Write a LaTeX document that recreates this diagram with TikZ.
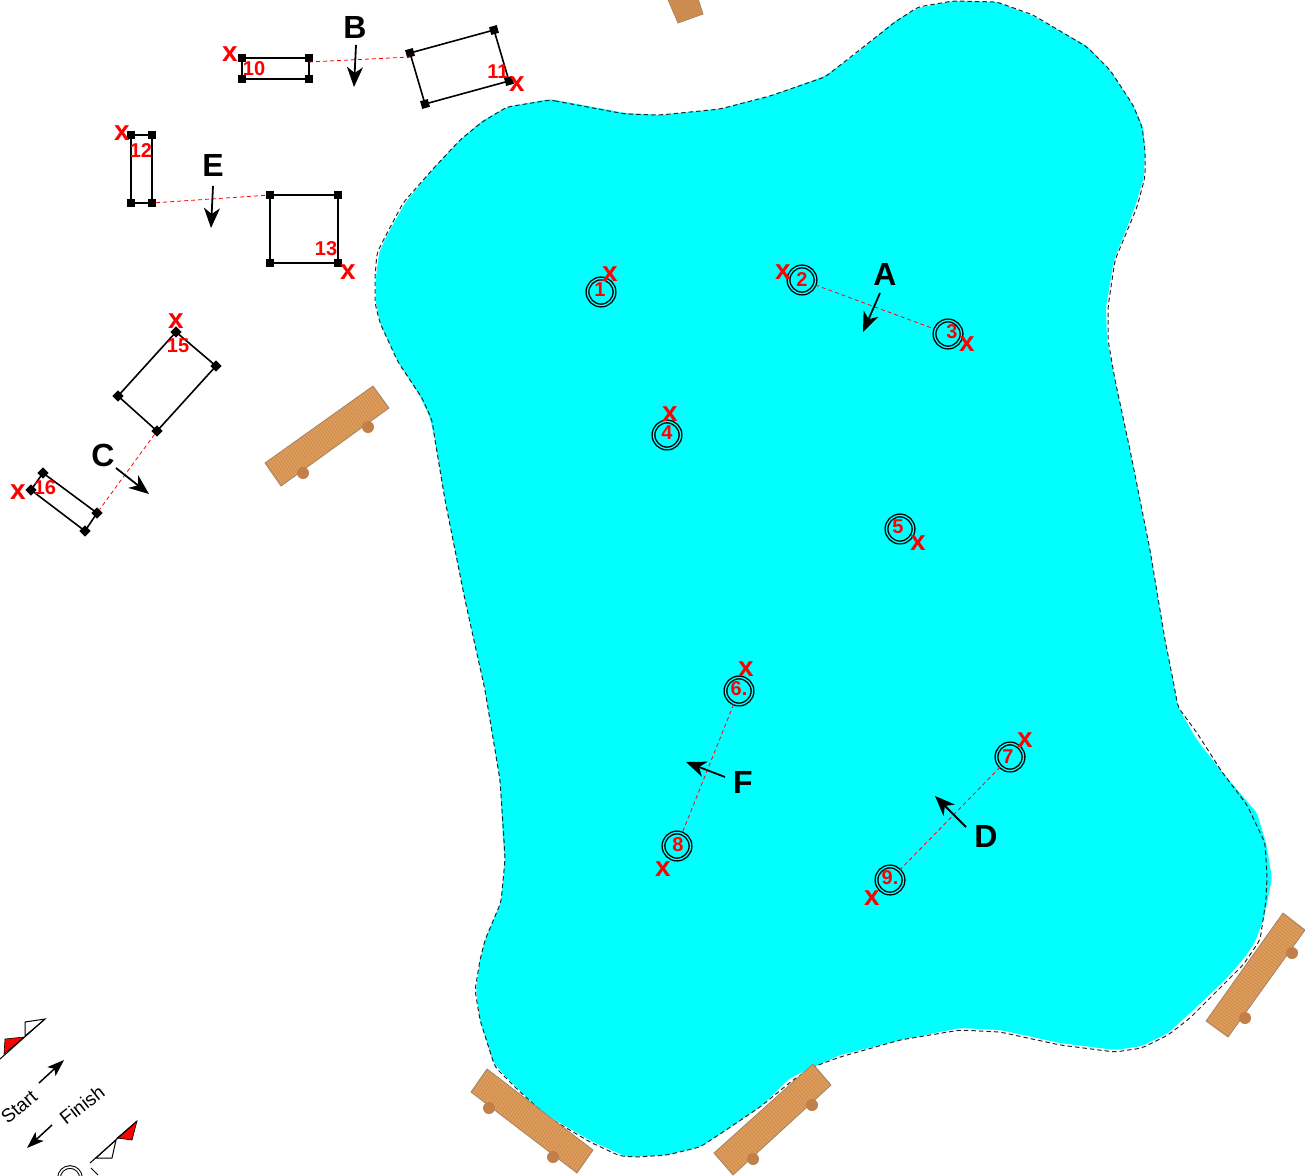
\documentclass[tikz,border=0pt]{standalone}
\usepackage{fontspec}
\setmainfont{Liberation Sans}
\usetikzlibrary{arrows.meta,calc}
\definecolor{lake}{HTML}{00FFFF}
\definecolor{wood}{HTML}{DF9C5A}
\definecolor{woodline}{HTML}{C6874C}
\definecolor{woodedge}{HTML}{A08468}
\definecolor{peg}{HTML}{C27F4A}
\tikzset{
  ring/.style={circle,draw=black,double=lake,double distance=1.3pt,line width=1.4pt,minimum size=27pt,inner sep=0pt},
  numlabel/.style={text=red,font=\bfseries\fontsize{20}{22}\selectfont,inner sep=0pt},
  xlabel/.style={text=red,font=\bfseries\fontsize{28}{30}\selectfont,inner sep=0pt},
  letter/.style={text=black,font=\bfseries\fontsize{32}{34}\selectfont,inner sep=0pt},
  legend/.style={text=black,font=\fontsize{19}{22}\selectfont,inner sep=0pt},
  handle/.style={rectangle,fill=black,minimum size=8pt,inner sep=0pt},
  box/.style={draw=black,line width=1.6pt},
  sight/.style={draw=red,line width=0.8pt,dash pattern=on 4pt off 3pt},
  bigarrow/.style={draw=black,line width=1.8pt,-{Stealth[length=20pt,width=16pt,inset=6pt]}},
  smallarrow/.style={draw=black,line width=1.5pt,-{Stealth[length=17pt,width=12pt,inset=4pt]}},
  shore/.style={draw=black!85,line width=1pt,dash pattern=on 4.5pt off 3pt,rounded corners=5pt},
  flagline/.style={draw=black,line width=1pt},
}
\newcommand{\dock}[4]{%
  \fill[wood,draw=woodedge,line width=0.8pt] #1 -- #2 -- #3 -- #4 -- cycle;
  \foreach \t in {0.01,0.03,...,1}{
    \draw[woodline,line width=0.5pt] ($#1!\t!#2$) -- ($#4!\t!#3$);
  }
}
\begin{document}
\begin{tikzpicture}[x=1pt,y=-1pt]
\useasboundingbox (0,0) rectangle (1305,1175);
\fill[white] (0,0) rectangle (1305,1175);
\clip (0,0) rectangle (1305,1175);

% lake surface
\fill[lake,rounded corners=4pt] (550,99) -- (625,113) -- (660,115) -- (720,109) -- (770,96) -- (825,76) -- (857,53) -- (895,21) -- (918,8) -- (953,1) -- (997,2) -- (1033,16) -- (1087,46) -- (1110,70) -- (1133,105) -- (1143,127) -- (1145,150) -- (1144,177) -- (1135,207) -- (1114,260) -- (1106,307) -- (1107,340) -- (1115,380) -- (1130,450) -- (1150,550) -- (1165,640) -- (1173,680) -- (1178,707) -- (1197,740) -- (1222,772) -- (1257,813) -- (1266,843) -- (1272,878) -- (1264,918) -- (1255,942) -- (1245,957) -- (1225,980) -- (1190,1013) -- (1168,1033) -- (1142,1046) -- (1115,1050) -- (1060,1043) -- (1000,1030) -- (960,1028) -- (900,1040) -- (840,1055) -- (790,1078) -- (760,1107) -- (723,1132) -- (700,1147) -- (667,1155) -- (627,1157) -- (593,1142) -- (543,1113) -- (507,1078) -- (493,1062) -- (480,1020) -- (476,990) -- (480,960) -- (485,940) -- (501,902) -- (505,860) -- (503,840) -- (500,780) -- (485,690) -- (465,600) -- (445,500) -- (435,440) -- (430,418) -- (420,396) -- (398,362) -- (380,323) -- (376,303) -- (376,277) -- (379,253) -- (386,237) -- (405,203) -- (432,170) -- (460,140) -- (482,121) -- (507,107) -- cycle;
% shore line
\path[shore] (550,100) -- (625,114) -- (660,115) -- (720,109) -- (770,96) -- (825,77) -- (857,52) -- (895,22) -- (918,7) -- (953,1) -- (997,2) -- (1033,15) -- (1087,47) -- (1110,70) -- (1133,105) -- (1142,127) -- (1145,150) -- (1145,177) -- (1137,207) -- (1115,260) -- (1108,307) -- (1108,340) -- (1115,380) -- (1130,450) -- (1150,550) -- (1165,640) -- (1173,680) -- (1178,707) -- (1197,733) -- (1222,772) -- (1247,805) -- (1265,843) -- (1267,877) -- (1266,900) -- (1260,940) -- (1243,965) -- (1190,1018) -- (1168,1035) -- (1142,1048) -- (1115,1052) -- (1060,1045) -- (1000,1032) -- (960,1030) -- (900,1040) -- (840,1057) -- (813,1067) -- (793,1080) -- (760,1107) -- (723,1132) -- (700,1147) -- (667,1155) -- (637,1157) -- (620,1156) -- (590,1142) -- (548,1117) -- (518,1090) -- (495,1067) -- (480,1020) -- (475,990) -- (480,960) -- (485,940) -- (501,902) -- (505,860) -- (504,840) -- (500,780) -- (485,690) -- (465,600) -- (445,500) -- (435,440) -- (432,420) -- (422,398) -- (398,362) -- (380,323) -- (375,303) -- (375,277) -- (377,253) -- (385,237) -- (403,203) -- (432,170) -- (460,140) -- (482,122) -- (507,107) -- cycle;

% docks
\dock{(265,463)}{(373,386)}{(389,408)}{(281,486)}
\fill[peg] (368,427) circle (6); \fill[peg] (303,473) circle (6);
\dock{(487,1069)}{(593,1150)}{(577,1173)}{(471,1092)}
\fill[peg] (489,1108) circle (6); \fill[peg] (553,1157) circle (6);
\dock{(813,1064)}{(714,1153)}{(733,1175)}{(831,1085)}
\fill[peg] (812,1105) circle (6); \fill[peg] (753,1159) circle (6);
\dock{(1283,913)}{(1206,1021)}{(1228,1037)}{(1305,930)}
\fill[peg] (1292,953) circle (6); \fill[peg] (1245,1018) circle (6);
\dock{(663,-12)}{(678,23)}{(703,14)}{(692,-20)}

% buoys
\node[ring] (m1) at (601,292) {};
\node[ring] (m2) at (802,280) {};
\node[ring] (m3) at (948,334) {};
\node[ring] (m4) at (667,435) {};
\node[ring] (m5) at (900,529) {};
\node[ring] (m6) at (739,691) {};
\node[ring] (m7) at (1010,757) {};
\node[ring] (m8) at (677,846) {};
\node[ring] (m9) at (890,880) {};

% gates
\node[handle] (a1) at (242,58) {};
\node[handle] (a2) at (309,58) {};
\node[handle] (a3) at (309,79) {};
\node[handle] (a4) at (242,79) {};
\draw[box] (a1.center) -- (a2.center) -- (a3.center) -- (a4.center) -- cycle;
\node[handle,rotate=16] (b1) at (410,53) {};
\node[handle,rotate=16] (b2) at (494,30) {};
\node[handle,rotate=16] (b3) at (509,81) {};
\node[handle,rotate=16] (b4) at (425,104) {};
\draw[box] (b1.center) -- (b2.center) -- (b3.center) -- (b4.center) -- cycle;
\node[handle] (c1) at (131,135) {};
\node[handle] (c2) at (152,135) {};
\node[handle] (c3) at (152,203) {};
\node[handle] (c4) at (131,203) {};
\draw[box] (c1.center) -- (c2.center) -- (c3.center) -- (c4.center) -- cycle;
\node[handle] (d1) at (270,195) {};
\node[handle] (d2) at (338,195) {};
\node[handle] (d3) at (338,263) {};
\node[handle] (d4) at (270,263) {};
\draw[box] (d1.center) -- (d2.center) -- (d3.center) -- (d4.center) -- cycle;
\node[handle,rotate=45] (e1) at (176,332) {};
\node[handle,rotate=45] (e2) at (216,366) {};
\node[handle,rotate=45] (e3) at (157,431) {};
\node[handle,rotate=45] (e4) at (118,396) {};
\draw[box] (e1.center) -- (e2.center) -- (e3.center) -- (e4.center) -- cycle;
\node[handle,rotate=45] (f1) at (43,473) {};
\node[handle,rotate=45] (f2) at (97,513) {};
\node[handle,rotate=45] (f3) at (85,531) {};
\node[handle,rotate=45] (f4) at (31,490) {};
\draw[box] (f1.center) -- (f2.center) -- (f3.center) -- (f4.center) -- cycle;

% sight lines
\path[sight] (m2) -- (m3);
\path[sight] (m6) -- (m8);
\path[sight] (m7) -- (m9);
\path[sight] ([yshift=-4pt]a2.center) -- ([yshift=-4pt]b1.center);
\path[sight] (c3) -- (d1);
\path[sight] (e3) -- (f2);

% numbers
\node[numlabel] (n1) at (600,290) {1};
\node[numlabel] (n2) at (802,280) {2};
\node[numlabel] (n3) at (952,332) {3};
\node[numlabel] (n4) at (667,433) {4};
\node[numlabel] (n5) at (898,527) {5};
\node[numlabel] (n6) at (739,689) {6.};
\node[numlabel] (n7) at (1008,757) {7};
\node[numlabel] (n8) at (678,845) {8};
\node[numlabel] (n9) at (890,878) {9.};
\node[numlabel] (n10) at (254,69) {10};
\node[numlabel] (n11) at (498,72) {11};
\node[numlabel] (n12) at (141,151) {12};
\node[numlabel] (n13) at (326,249) {13};
\node[numlabel] (n15) at (178,346) {15};
\node[numlabel] (n16) at (45,488) {16};

% x marks
\node[xlabel] (x1) at (610,274) {x};
\node[xlabel] (x2) at (783,272) {x};
\node[xlabel] (x3) at (967,344) {x};
\node[xlabel] (x4) at (670,414) {x};
\node[xlabel] (x5) at (918,543) {x};
\node[xlabel] (x6) at (746,669) {x};
\node[xlabel] (x7) at (1025,740) {x};
\node[xlabel] (x8) at (663,869) {x};
\node[xlabel] (x9) at (872,898) {x};
\node[xlabel] (x10) at (230,54) {x};
\node[xlabel] (x11) at (517,84) {x};
\node[xlabel] (x12) at (122,133) {x};
\node[xlabel] (x13) at (348,272) {x};
\node[xlabel] (x15) at (176,321) {x};
\node[xlabel] (x16) at (18,492) {x};

% letters and arrows
\node[letter] (A) at (885,274) {A};
\node[letter] (B) at (355,27) {B};
\node[letter] (C) at (103,455) {C};
\node[letter] (D) at (986,836) {D};
\node[letter] (E) at (213,165) {E};
\node[letter] (F) at (743,782) {F};
\coordinate (A0) at (880,293); \coordinate (A1) at (863,332);
\coordinate (B0) at (356,45);  \coordinate (B1) at (354,87);
\coordinate (C0) at (116,468); \coordinate (C1) at (149,494);
\coordinate (D0) at (966,827); \coordinate (D1) at (935,796);
\coordinate (E0) at (213,186); \coordinate (E1) at (211,228);
\coordinate (F0) at (725,777); \coordinate (F1) at (686,762);
\draw[bigarrow] (A0) -- (A1);
\draw[bigarrow] (B0) -- (B1);
\draw[bigarrow] (C0) -- (C1);
\draw[bigarrow] (D0) -- (D1);
\draw[bigarrow] (E0) -- (E1);
\draw[bigarrow] (F0) -- (F1);

% start / finish legend
\fill[red,draw=black,line width=0.6pt] (5,1039) -- (24,1037) -- (4,1054) -- cycle;
\draw[flagline,fill=white] (25,1022) -- (45,1019) -- (25,1036) -- cycle;
\coordinate (g0) at (0,1059); \coordinate (g1) at (45,1019);
\draw[flagline] (g0) -- (g1);
\fill[red,draw=black,line width=0.6pt] (137,1121) -- (132,1140) -- (117,1138) -- cycle;
\draw[flagline,fill=white] (116,1140) -- (112,1158) -- (96,1158) -- cycle;
\coordinate (h0) at (90,1163); \coordinate (h1) at (137,1121);
\draw[flagline] (h0) -- (h1);
\coordinate (s0) at (39,1083); \coordinate (s1) at (64,1060);
\coordinate (t0) at (52,1125); \coordinate (t1) at (27,1148);
\draw[smallarrow] (s0) -- (s1);
\draw[smallarrow] (t0) -- (t1);
\node[legend,rotate=40] (start) at (19,1107) {Start};
\node[legend,rotate=38] (finish) at (82,1105) {Finish};
\node[circle,draw=black,double=white,double distance=1.6pt,line width=1pt,minimum size=22pt,inner sep=0pt] (fin) at (70,1178) {};
\coordinate (k0) at (91,1168); \coordinate (k1) at (98,1175);
\draw[flagline] (k0) -- (k1);
\end{tikzpicture}
\end{document}
